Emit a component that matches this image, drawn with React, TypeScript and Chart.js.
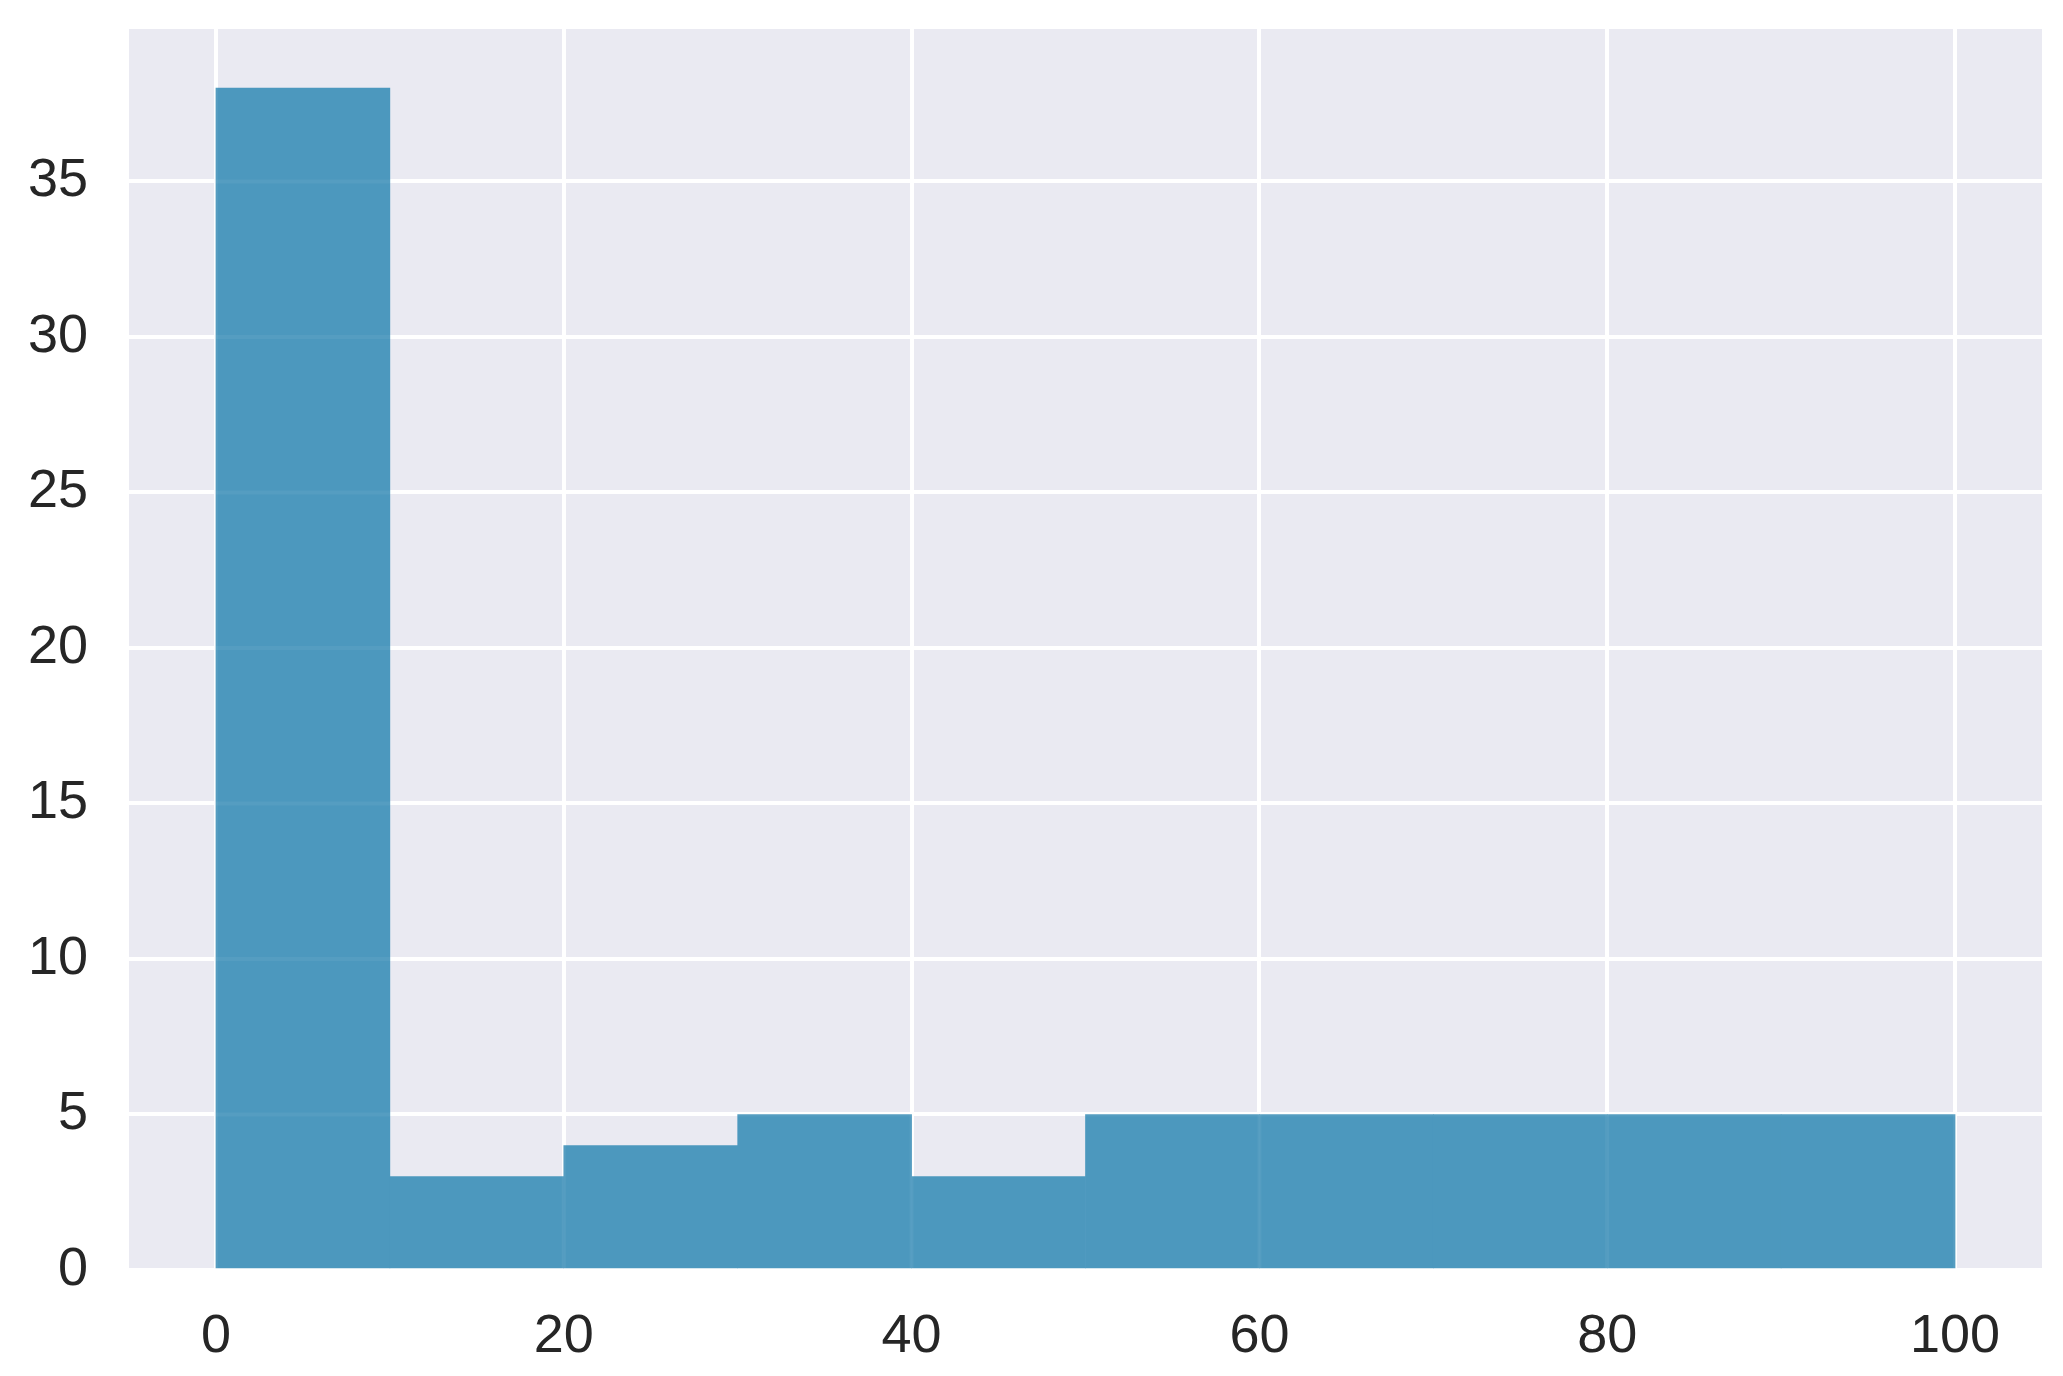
import React, { useEffect, useRef } from "react";
import { Chart, registerables } from "chart.js";

Chart.register(...registerables);

const binStarts = [0, 10, 20, 30, 40, 50, 60, 70, 80, 90];
const binWidth = 10;
const counts = [38, 3, 4, 5, 3, 5, 5, 5, 5, 5];
const xTicks = [0, 20, 40, 60, 80, 100];
const yTicks = [0, 5, 10, 15, 20, 25, 30, 35];

const W = 2063;
const H = 1376;

const bgPlugin = {
  id: "plotBg",
  beforeDraw(chart: any) {
    const { ctx, chartArea } = chart;
    if (!chartArea) return;
    ctx.save();
    ctx.fillStyle = "#EAEAF2";
    ctx.fillRect(chartArea.left, chartArea.top, chartArea.right - chartArea.left, chartArea.bottom - chartArea.top);
    ctx.restore();
  },
};

// faint grid showing through the (semi-transparent looking) bars
const gridOverlayPlugin = {
  id: "gridOverlay",
  afterDatasetsDraw(chart: any) {
    const { ctx, chartArea, scales } = chart;
    ctx.save();
    ctx.beginPath();
    ctx.rect(chartArea.left, chartArea.top, chartArea.right - chartArea.left, chartArea.bottom - chartArea.top);
    ctx.clip();
    ctx.strokeStyle = "rgba(255,255,255,0.05)";
    ctx.lineWidth = 4;
    for (const v of xTicks) {
      const x = scales.x.getPixelForValue(v);
      ctx.beginPath();
      ctx.moveTo(x, chartArea.top);
      ctx.lineTo(x, chartArea.bottom);
      ctx.stroke();
    }
    for (const v of yTicks) {
      const y = scales.y.getPixelForValue(v);
      ctx.beginPath();
      ctx.moveTo(chartArea.left, y);
      ctx.lineTo(chartArea.right, y);
      ctx.stroke();
    }
    ctx.restore();
  },
};

export default function App() {
  const ref = useRef<HTMLCanvasElement | null>(null);
  useEffect(() => {
    document.body.style.margin = "0";
    const canvas = ref.current!;
    const data = binStarts.map((s, i) => ({ x: s + binWidth / 2, y: counts[i] }));
    const font = { family: "'Liberation Sans', Arial, sans-serif", size: 54 };
    const chart = new Chart(canvas, {
      type: "bar",
      data: {
        datasets: [
          {
            data,
            backgroundColor: "rgb(76,152,190)",
            borderWidth: 0,
            barPercentage: 1,
            categoryPercentage: 1,
          },
        ],
      },
      options: {
        animation: false,
        responsive: false,
        devicePixelRatio: 1,
        layout: { padding: { top: 29, right: 21, left: 0, bottom: 0 } },
        plugins: { legend: { display: false }, tooltip: { enabled: false } },
        scales: {
          x: {
            type: "linear",
            offset: false,
            min: -5,
            max: 105,
            grid: { color: "#FFFFFF", lineWidth: 4, drawTicks: false, offset: false },
            border: { display: false },
            ticks: { font, color: "#262626", padding: 35, maxRotation: 0 },
            afterBuildTicks: (scale: any) => {
              scale.ticks = xTicks.map((v) => ({ value: v }));
            },
            afterFit: (scale: any) => {
              scale.height = H - 1270;
              scale.paddingLeft = 0;
              scale.paddingRight = 0;
            },
          },
          y: {
            type: "linear",
            min: 0,
            max: 39.9,
            grid: { color: "#FFFFFF", lineWidth: 4, drawTicks: false },
            border: { display: false },
            ticks: { font, color: "#262626", padding: 41 },
            afterBuildTicks: (scale: any) => {
              scale.ticks = yTicks.map((v) => ({ value: v }));
            },
            afterFit: (scale: any) => {
              scale.width = 129;
              scale.paddingTop = 0;
              scale.paddingBottom = 0;
            },
          },
        },
      },
      plugins: [bgPlugin, gridOverlayPlugin],
    } as any);
    return () => chart.destroy();
  }, []);
  return (
    <div style={{ width: W, height: H, background: "#FFFFFF" }}>
      <canvas ref={ref} width={W} height={H} style={{ width: W, height: H, display: "block" }} />
    </div>
  );
}
